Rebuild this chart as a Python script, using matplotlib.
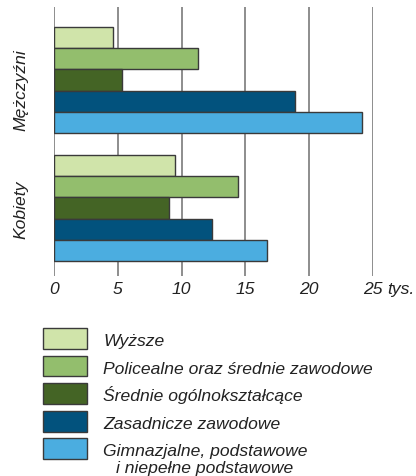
# -*- coding: utf-8 -*-
# Ludność wg wykształcenia i płci (tys.)
import matplotlib.pyplot as plt
from matplotlib.patches import Rectangle

plt.rcParams['font.family'] = ['Liberation Sans', 'DejaVu Sans']
plt.rcParams['font.style'] = 'italic'

# Dane
grupy = ['Mężczyźni', 'Kobiety']
kategorie = ['Wyższe', 'Policealne oraz średnie zawodowe', 'Średnie ogólnokształcące',
             'Zasadnicze zawodowe', 'Gimnazjalne, podstawowe\ni niepełne podstawowe']
mezczyzni = [4.6, 11.3, 5.3, 18.9, 24.1]
kobiety = [9.5, 14.4, 9.0, 12.4, 16.7]
kolory = ['#D0E4AA', '#93BE6D', '#446425', '#02527D', '#4BADE0']
ticki = [0, 5, 10, 15, 20, 25]

W, H = 416, 477
FS = 12.6
fig = plt.figure(figsize=(W / 100, H / 100), dpi=100)
ax = fig.add_axes([54 / W, 200 / H, 319 / W, 269 / H])

# słupki - grupa Kobiety na dole (0..4), Mężczyźni wyżej (6..10)
for baza, wartosci in zip([6, 0], [mezczyzni, kobiety]):
    for i, v in enumerate(wartosci):
        ax.barh(baza + 4 - i, v, height=1, color=kolory[i], edgecolor='#3a3a3a', lw=1, zorder=3)

ax.set_xlim(0, 25)
ax.set_ylim(-1.19, 11.42)
ax.set_xticks(ticki)
ax.set_xticklabels([str(t) for t in ticki], fontsize=FS, fontstyle='italic')
ax.set_yticks([])
ax.tick_params(axis='x', length=0, pad=3.7, colors='#222222')
ax.grid(axis='x', color='#7a7a7a', lw=1.2, zorder=0)
for s in ax.spines.values():
    s.set_visible(False)

ax.annotate('tys.', xy=(25, 0), xycoords=('data', 'axes fraction'), xytext=(10.2, -3.7),
            textcoords='offset points', ha='left', va='top', fontsize=FS, fontstyle='italic',
            color='#222222')

# opisy grup
for etykieta, y in zip(grupy, [7.57, 1.98]):
    ax.text(-0.09, y, etykieta, transform=ax.get_yaxis_transform(), rotation=90,
            rotation_mode='anchor', ha='center', va='baseline', fontsize=FS, fontstyle='italic',
            color='#222222')

# legenda
for k, (kat, kol) in enumerate(zip(kategorie, kolory)):
    top = 329 + 27.6 * k
    fig.add_artist(Rectangle((42.5 / W, 1 - (top + 20.7) / H), 44 / W, 20.7 / H,
                             transform=fig.transFigure, facecolor=kol, edgecolor='#3a3a3a', lw=1))
    linie = kat.split('\n')
    base = top + 10.35 + 6.7
    fig.text(103 / W, 1 - base / H, linie[0], fontsize=FS, fontstyle='italic', va='baseline',
             ha='left', color='#222222')
    if len(linie) > 1:
        fig.text(116 / W, 1 - (base + 16.7) / H, linie[1], fontsize=FS, fontstyle='italic',
                 va='baseline', ha='left', color='#222222')

fig.savefig('out.png', dpi=100)
